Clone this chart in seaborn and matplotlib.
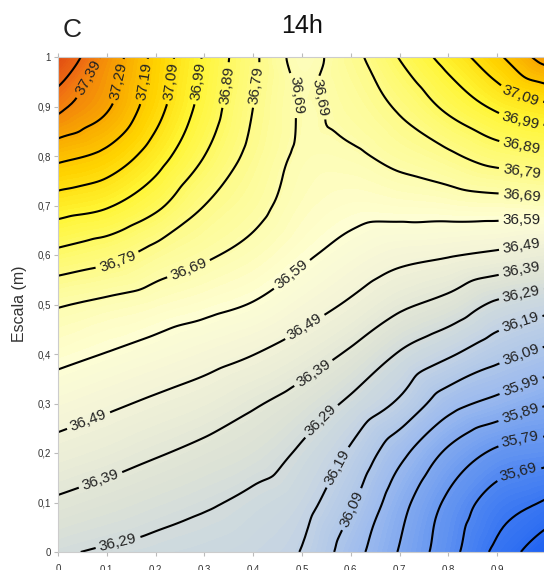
import numpy as np
import matplotlib
matplotlib.use('Agg')
import matplotlib.pyplot as plt
import matplotlib.tri as mtri
from matplotlib.colors import LinearSegmentedColormap
import seaborn as sns

# Grid positions (m)
GRID_X = [0.0, 0.1, 0.2, 0.3, 0.4, 0.5, 0.6, 0.7, 0.8, 0.9, 1.0]
GRID_Y = [0.0, 0.1, 0.2, 0.3, 0.4, 0.5, 0.6, 0.7, 0.8, 0.9, 1.0]

# Temperature (C), one row per height
TEMP_Y00 = [36.30, 36.28, 36.265, 36.25, 36.23, 36.185, 36.035, 35.883, 35.73, 35.566, 35.40]
TEMP_Y01 = [36.378, 36.352, 36.326, 36.301, 36.27, 36.225, 36.104, 35.928, 35.77, 35.64, 35.58]
TEMP_Y02 = [36.457, 36.43, 36.398, 36.367, 36.334, 36.275, 36.175, 36.019, 35.871, 35.77, 35.736]
TEMP_Y03 = [36.536, 36.506, 36.475, 36.444, 36.40, 36.348, 36.27, 36.173, 36.03, 35.96, 35.898]
TEMP_Y04 = [36.615, 36.587, 36.558, 36.527, 36.492, 36.442, 36.375, 36.282, 36.204, 36.123, 36.065]
TEMP_Y05 = [36.698, 36.67, 36.643, 36.615, 36.585, 36.533, 36.477, 36.409, 36.357, 36.273, 36.228]
TEMP_Y06 = [36.865, 36.823, 36.754, 36.704, 36.66, 36.605, 36.556, 36.516, 36.497, 36.472, 36.44]
TEMP_Y07 = [37.038, 37.0, 36.912, 36.79, 36.719, 36.65, 36.62, 36.625, 36.634, 36.644, 36.657]
TEMP_Y08 = [37.217, 37.161, 37.037, 36.89, 36.761, 36.675, 36.675, 36.72, 36.771, 36.834, 36.87]
TEMP_Y09 = [37.416, 37.303, 37.129, 36.954, 36.79, 36.685, 36.724, 36.805, 36.913, 37.01, 37.07]
TEMP_Y10 = [37.62, 37.36, 37.16, 36.98, 36.81, 36.66, 36.76, 36.895, 37.03, 37.17, 37.33]

# isotherms drawn on the map
LEVELS = [35.49, 35.59, 35.69, 35.79, 35.89, 35.99, 36.09, 36.19, 36.29, 36.39, 36.49,
          36.59, 36.69, 36.79, 36.89, 36.99, 37.09, 37.19, 37.29, 37.39, 37.49]

TICKS = [0, 0.1, 0.2, 0.3, 0.4, 0.5, 0.6, 0.7, 0.8, 0.9, 1]

# where the inline labels sit
LABEL_POS = [
    (0.076, 0.95), (0.13, 0.95), (0.18, 0.95), (0.235, 0.95), (0.29, 0.95),
    (0.346, 0.943), (0.41, 0.943), (0.49, 0.923), (0.551, 0.923),
    (0.95, 0.927), (0.95, 0.879), (0.95, 0.818), (0.95, 0.768), (0.95, 0.721),
    (0.95, 0.671), (0.95, 0.62), (0.95, 0.566), (0.95, 0.519), (0.95, 0.455),
    (0.95, 0.394), (0.95, 0.333), (0.95, 0.271), (0.95, 0.21), (0.95, 0.145),
    (0.121, 0.59), (0.27, 0.566), (0.486, 0.553), (0.062, 0.267), (0.51, 0.448),
    (0.086, 0.149), (0.523, 0.362), (0.121, 0.028), (0.537, 0.267),
    (0.571, 0.172), (0.605, 0.085),
]

sns.set_theme(style='white')
plt.rcParams['font.family'] = ['Liberation Sans', 'DejaVu Sans']

temp = np.array([TEMP_Y00, TEMP_Y01, TEMP_Y02, TEMP_Y03, TEMP_Y04, TEMP_Y05,
                 TEMP_Y06, TEMP_Y07, TEMP_Y08, TEMP_Y09, TEMP_Y10])
xx, yy = np.meshgrid(GRID_X, GRID_Y)

# smooth the coarse grid with matplotlib's own cubic refiner
tri = mtri.Triangulation(xx.ravel(), yy.ravel())
interp = mtri.CubicTriInterpolator(tri, temp.ravel(), kind='geom')
refiner = mtri.UniformTriRefiner(tri)
tri_f, temp_f = refiner.refine_field(temp.ravel(), triinterpolator=interp, subdiv=4)

zmin, zmax = 35.38, 37.64
anchors = [(35.38, '#1a5ef2'), (35.60, '#3b78f2'), (35.80, '#6d9bf0'),
           (36.00, '#9dbbee'), (36.20, '#c3d3e4'), (36.35, '#dde2d6'),
           (36.50, '#f3f4d8'), (36.60, '#fefed4'), (36.70, '#fdfcaa'),
           (36.85, '#fefa72'), (37.00, '#fff534'), (37.15, '#ffd400'),
           (37.30, '#f8a600'), (37.45, '#f07212'), (37.64, '#e04812')]
cmap = LinearSegmentedColormap.from_list(
    'temp', [((v - zmin) / (zmax - zmin), c) for v, c in anchors])

fig = plt.figure(figsize=(5.44, 5.70), dpi=100)
ax = fig.add_axes([58 / 544, 18 / 570, 488 / 544, 495 / 570])

ax.tricontourf(tri_f, temp_f, levels=np.linspace(zmin, zmax, 150), cmap=cmap,
               vmin=zmin, vmax=zmax)
cs = ax.tricontour(tri_f, temp_f, levels=LEVELS, colors='black', linewidths=1.5)
ax.clabel(cs, manual=LABEL_POS, inline=True, inline_spacing=4, fontsize=11,
          colors='#222222', fmt=lambda v: f'{v:.2f}'.replace('.', ','))

ax.set_xlim(0, 1)
ax.set_ylim(0, 1)
ax.set_xticks(TICKS)
ax.set_yticks(TICKS)
fmt_tick = lambda v: '0' if v == 0 else ('1' if v == 1 else f'{v:.1f}'.replace('.', ','))
ax.set_xticklabels([fmt_tick(t) for t in TICKS])
ax.set_yticklabels([fmt_tick(t) for t in TICKS])
ax.tick_params(axis='both', which='both', direction='out', length=3, width=0.8,
               color='#bbbbbb', labelsize=7, labelcolor='#333333')
ax.tick_params(axis='x', pad=6, top=True, bottom=True)
ax.tick_params(axis='y', pad=2, left=True)
for sp in ax.spines.values():
    sp.set_color('#cccccc')
    sp.set_linewidth(0.8)

fig.text(20 / 544, 1 - 304 / 570, 'Escala (m)', rotation=90, ha='center',
         va='center', fontsize=11.5, color='#333333')
fig.text(72 / 544, 1 - 30 / 570, 'C', ha='center', va='center', fontsize=19,
         color='#222222')
fig.text(302 / 544, 1 - 26 / 570, '14h', ha='center', va='center', fontsize=18,
         color='#111111')

fig.savefig('out.png', dpi=100)
